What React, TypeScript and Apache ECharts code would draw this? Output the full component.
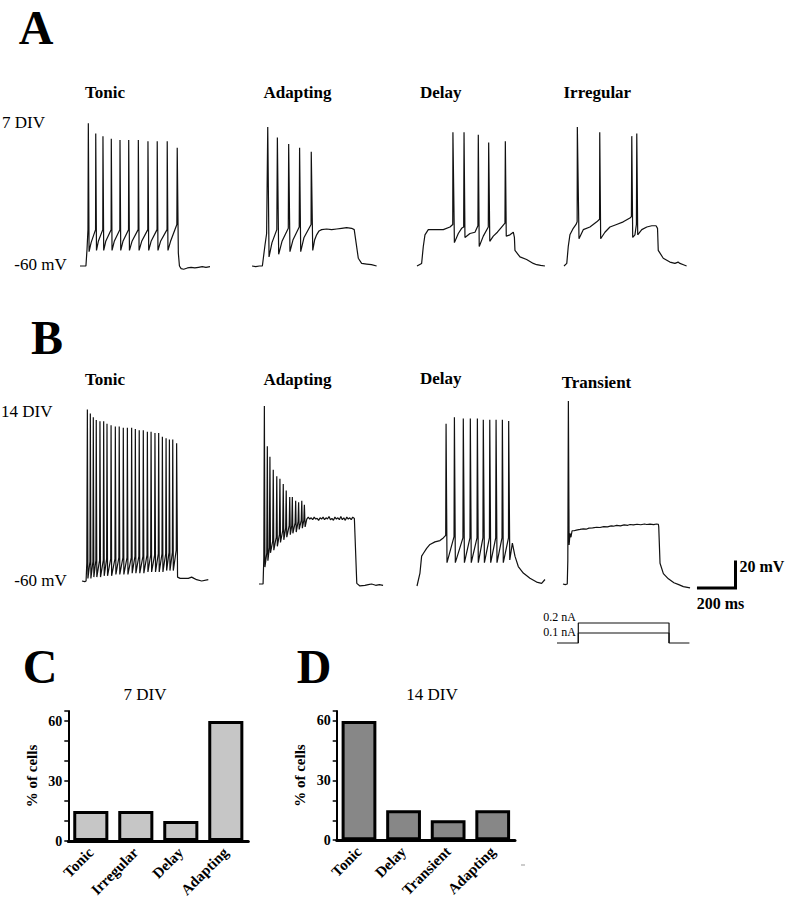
import React, { useEffect, useRef } from "react";
import * as echarts from "echarts";

const FONT = '"Liberation Serif", "Times New Roman", serif';

// ---------- Data: membrane potential traces, [time (ms), potential (mV)] ----------
// Row A (7 DIV)
const typesA = ["Tonic", "Adapting", "Delay", "Irregular"];
const tonic7: number[][] = [
  [0, -60], [32, -60], [38, -47], [43, -32], [45, 50], [49, -49], [60, -42], [84, -32],
  [85, 42], [89, -48], [99, -41], [123, -32],
  [124, 40], [128, -48], [139, -41], [168, -32],
  [169, 38], [173, -48], [185, -41], [215, -32],
  [216, 37], [220, -48], [232, -41], [262, -32],
  [263, 37], [267, -48], [281, -41], [314, -32],
  [315, 37], [319, -48], [333, -41], [366, -32],
  [367, 36], [371, -48], [384, -41], [416, -32],
  [417, 36], [421, -48], [435, -41], [470, -32],
  [471, 36], [475, -48], [489, -41], [523, -28],
  [525, 31], [531, -50], [537, -60], [546, -62], [560, -62.5], [580, -61.5], [600, -61],
  [620, -61.5], [640, -61], [660, -60.5], [680, -61], [702, -60.5],
];
const adapting7: number[][] = [
  [0, -60], [20, -60.5], [40, -60], [56, -60], [70, -44], [79, -35], [85, 47], [92, -53], [108, -42], [134, -32],
  [137, 39], [144, -51], [162, -41], [196, -31],
  [198, 34], [205, -49], [221, -40], [255, -30],
  [257, 31], [263, -49], [281, -38], [319, -28],
  [320, 28], [328, -48], [338, -40], [349, -36], [362, -33], [376, -32], [403, -31.5], [430, -32],
  [457, -31.5], [484, -31], [511, -30.5], [538, -31], [552, -32], [574, -54], [592, -58], [619, -58.5],
  [645, -59], [673, -60],
];
const delay7: number[][] = [
  [0, -60], [25, -58], [34, -45], [43, -36], [61, -32], [79, -32], [106, -32], [142, -32], [178, -30], [193, -28],
  [194, 43], [202, -42], [223, -35], [241, -31], [252, -30],
  [254, 43], [259, -38], [286, -35], [313, -34], [329, -29],
  [331, 41], [336, -45], [358, -37], [385, -30],
  [387, 35], [393, -41], [412, -37], [434, -34], [457, -30], [475, -27],
  [477, 36], [482, -37], [502, -36], [520, -34], [526, -38], [529, -48], [556, -53], [592, -55],
  [628, -58], [646, -59], [668, -59.5], [691, -60],
];
const irregular7: number[][] = [
  [0, -60], [15, -58], [23, -45], [32, -36], [50, -31], [65, -28], [71, -26],
  [72, 47], [81, -39], [104, -32], [140, -30], [177, -26], [192, -24],
  [193, 43], [198, -39], [221, -34], [248, -30], [284, -28], [320, -26], [356, -23], [364, -22],
  [366, 40], [371, -38], [383, -36], [391, -28],
  [393, 42], [398, -36], [420, -32], [447, -30], [474, -29], [497, -29], [505, -31], [509, -48],
  [536, -54], [572, -57], [599, -58], [616, -57], [626, -58], [645, -59], [662, -60],
];

// Row B (14 DIV)
const typesB = ["Tonic", "Adapting", "Delay", "Transient"];
const tonic14: number[][] = [
  [0, -60], [15, -60.5], [22, -60], [26, -46],
  [29, 72], [32, -58], [43, -45],
  [45, 69], [48, -58], [59, -45],
  [61, 66], [64, -57], [75, -44],
  [77, 64], [80, -57], [95, -44],
  [97, 63], [100, -57], [115, -44],
  [117, 63], [120, -56], [133, -43],
  [135, 61], [138, -56], [155, -43],
  [157, 60], [160, -56], [178, -43],
  [180, 59], [183, -55], [199, -42],
  [201, 59], [204, -55], [221, -42],
  [223, 58], [226, -55], [243, -42],
  [245, 58], [248, -55], [266, -42],
  [268, 58], [271, -54], [286, -41],
  [288, 57], [291, -54], [307, -41],
  [309, 56], [312, -54], [329, -41],
  [331, 56], [334, -54], [351, -40],
  [353, 55], [356, -53], [371, -40],
  [373, 55], [376, -53], [392, -40],
  [394, 54], [397, -53], [412, -39],
  [414, 54], [417, -53], [432, -39],
  [434, 51], [437, -53], [452, -39],
  [454, 50], [457, -52], [470, -38],
  [472, 49], [475, -52], [488, -38],
  [490, 49], [493, -52], [509, -36],
  [511, 46], [516, -57], [530, -58], [550, -58], [574, -58], [592, -57], [605, -58], [619, -59],
  [646, -60], [682, -59],
];
const adapting14: number[][] = [
  [0, -60], [12, -60], [22, -60], [26, -40], [29, 77], [32, -47], [42, -36],
  [45, 46], [48, -42], [56, -32],
  [59, 38], [62, -36], [74, -27],
  [77, 28], [80, -34], [93, -24],
  [96, 23], [99, -31], [110, -22],
  [113, 21], [116, -28], [128, -19],
  [131, 17], [134, -26], [144, -17],
  [147, 12], [150, -24], [163, -15],
  [166, 7], [169, -22], [177, -15],
  [180, 7], [183, -21], [195, -13],
  [198, 4], [201, -20], [211, -12],
  [214, 3], [217, -18], [228, -11],
  [231, 4], [234, -17], [242, -11],
  [245, 1], [249, -16], [258, -10],
  [266, -8.5], [274, -10], [282, -9], [290, -10.5], [298, -8.5], [306, -10], [314, -9.5], [322, -11],
  [330, -9], [338, -10], [346, -8.5], [354, -10.5], [362, -9], [370, -10], [378, -8], [386, -10.5],
  [394, -9.5], [402, -11], [410, -8.5], [418, -10], [426, -9], [434, -10.5], [442, -8], [450, -10.5],
  [458, -9], [466, -11], [474, -8.5], [482, -10], [490, -9], [498, -10.5], [506, -8.5], [515, -9.5],
  [528, -59.5], [545, -61.5], [572, -61], [590, -60.5], [608, -60], [630, -61], [650, -60.5], [670, -61],
];
const delay14: number[][] = [
  [0, -60], [16, -50], [25, -37], [34, -35], [52, -31], [70, -28], [97, -26], [124, -25], [142, -23], [155, -21],
  [157, 65], [162, -42], [200, -22],
  [202, 70], [207, -42], [248, -23],
  [250, 69], [256, -42], [286, -23],
  [288, 69], [293, -42], [324, -23],
  [326, 69], [331, -42], [356, -23],
  [358, 68], [364, -42], [391, -23],
  [393, 68], [398, -42], [425, -23],
  [427, 68], [432, -42], [459, -23],
  [461, 68], [466, -42], [494, -23],
  [495, 67], [501, -40], [515, -27], [529, -37], [547, -45], [574, -50], [610, -54], [646, -57],
  [673, -58], [691, -55],
];
const transient14: number[][] = [
  [0, -60], [12, -60.5], [23, -60], [26, -42], [29, 81], [33, -30], [38, -21], [43, -24], [49, -19],
  [60, -19], [72, -18.5], [92, -18], [110, -17.5], [125, -17.8], [140, -17], [160, -16.8], [182, -16.3],
  [200, -16.5], [220, -15.8], [240, -16], [260, -15.3], [272, -15.5], [290, -14.8], [310, -15.2],
  [330, -14.5], [350, -14.8], [362, -14.2], [380, -14.5], [400, -14], [420, -14.4], [440, -13.8],
  [452, -14.2], [470, -13.9], [490, -14.3], [505, -13.8], [515, -14], [517, -16], [524, -44],
  [542, -52], [569, -56], [599, -59], [625, -60.5], [650, -62], [686, -63],
];

// Scale bar (ms, mV) and current step protocol (ms, nA)
const scaleBar: number[][] = [[-200, 0], [0, 0], [0, 20]];
const stepHigh: number[][] = [[-115, 0], [0, 0], [0, 0.2], [490, 0.2], [490, 0], [600, 0]];
const stepLow: number[][] = [[0, 0], [0, 0.1], [490, 0.1], [490, 0]];

// Bar charts: % of cells
const catsC = ["Tonic", "Irregular", "Delay", "Adapting"];
const valsC = [15, 15, 10, 60];
const catsD = ["Tonic", "Delay", "Transient", "Adapting"];
const valsD = [60, 15, 10, 15];

// ---------- Layout ----------
const PXMS = 1 / 5.4; // px per ms
const PXMV = 1 / 0.77; // px per mV

const traceLayout = [
  { data: tonic7, left: 80, base: 266, tmax: 702, ymax: 60 },
  { data: adapting7, left: 252, base: 266, tmax: 673, ymax: 60 },
  { data: delay7, left: 417, base: 266, tmax: 691, ymax: 60 },
  { data: irregular7, left: 564, base: 266, tmax: 662, ymax: 60 },
  { data: tonic14, left: 82, base: 581, tmax: 682, ymax: 90 },
  { data: adapting14, left: 259, base: 584, tmax: 670, ymax: 90 },
  { data: delay14, left: 417, base: 586, tmax: 691, ymax: 90 },
  { data: transient14, left: 563, base: 584, tmax: 686, ymax: 90 },
];
const YMIN = -70;

function txt(text: string, x: number, y: number, size: number, bold: boolean, align = "left", extra: any = {}) {
  const font = `${bold ? "bold " : ""}${size}px ${FONT}`;
  return {
    type: "text",
    x,
    y,
    silent: true,
    style: {
      text,
      font,
      fill: "#000",
      textAlign: align,
      align,
      textVerticalAlign: "middle",
      verticalAlign: "middle",
      ...extra,
    },
  };
}

function buildOption() {
  const grid: any[] = [];
  const xAxis: any[] = [];
  const yAxis: any[] = [];
  const series: any[] = [];

  traceLayout.forEach((t, i) => {
    grid.push({
      left: t.left,
      top: t.base - (t.ymax + 60) * PXMV,
      width: t.tmax * PXMS,
      height: (t.ymax - YMIN) * PXMV,
    });
    xAxis.push({ gridIndex: i, type: "value", min: 0, max: t.tmax, show: false });
    yAxis.push({ gridIndex: i, type: "value", min: YMIN, max: t.ymax, show: false });
    series.push({
      type: "line",
      xAxisIndex: i,
      yAxisIndex: i,
      data: t.data,
      symbol: "none",
      clip: false,
      silent: true,
      lineStyle: { color: "#111", width: 1.2 },
    });
  });

  // scale bar grid (index 8)
  const sbCornerX = 735.5;
  const sbCornerY = 588;
  grid.push({ left: sbCornerX - 200 * PXMS, top: sbCornerY - 20 * PXMV, width: 200 * PXMS, height: 20 * PXMV });
  xAxis.push({ gridIndex: 8, type: "value", min: -200, max: 0, show: false });
  yAxis.push({ gridIndex: 8, type: "value", min: 0, max: 20, show: false });
  series.push({
    type: "line", xAxisIndex: 8, yAxisIndex: 8, data: scaleBar, symbol: "none", clip: false, silent: true,
    lineStyle: { color: "#000", width: 3, cap: "square", join: "miter" },
  });

  // current step grid (index 9)
  const stepT0 = 578.3;
  const stepBase = 643;
  const PXNA = 100;
  grid.push({ left: stepT0 - 115 * PXMS, top: stepBase - 0.2 * PXNA, width: 715 * PXMS, height: 0.2 * PXNA });
  xAxis.push({ gridIndex: 9, type: "value", min: -115, max: 600, show: false });
  yAxis.push({ gridIndex: 9, type: "value", min: 0, max: 0.2, show: false });
  series.push({
    type: "line", xAxisIndex: 9, yAxisIndex: 9, data: stepHigh, symbol: "none", clip: false, silent: true,
    lineStyle: { color: "#111", width: 1.2 },
  });
  series.push({
    type: "line", xAxisIndex: 9, yAxisIndex: 9, data: stepLow, symbol: "none", clip: false, silent: true,
    lineStyle: { color: "#111", width: 1.2 },
  });

  // bar charts (10: C, 11: D)
  const barGrids = [
    { left: 68.3, width: 180, cats: catsC, vals: valsC, color: "#c6c6c6" },
    { left: 336.7, width: 178.3, cats: catsD, vals: valsD, color: "#878787" },
  ];
  barGrids.forEach((b, k) => {
    const gi = 10 + k;
    grid.push({ left: b.left, top: 841 - 65 * 2, width: b.width, height: 130 });
    xAxis.push({
      gridIndex: gi,
      type: "category",
      data: b.cats,
      axisLine: { show: true, lineStyle: { color: "#000", width: 3 } },
      axisTick: { show: false },
      axisLabel: {
        interval: 0,
        rotate: 45,
        color: "#000",
        fontFamily: FONT,
        fontWeight: "bold",
        fontSize: 15,
        margin: 9,
      },
    });
    yAxis.push({
      gridIndex: gi,
      type: "value",
      min: 0,
      max: 65,
      interval: 10,
      axisLine: { show: true, lineStyle: { color: "#000", width: 2 } },
      axisTick: { show: true, length: 4, lineStyle: { color: "#000", width: 1.5 } },
      splitLine: { show: false },
      axisLabel: {
        formatter: (v: number) => (v % 30 === 0 ? String(v) : ""),
        color: "#000",
        fontFamily: FONT,
        fontWeight: "bold",
        fontSize: 14,
        margin: 6,
      },
      name: "% of cells",
      nameLocation: "middle",
      nameGap: 29,
      nameTextStyle: { color: "#000", fontFamily: FONT, fontWeight: "bold", fontSize: 15 },
    });
    series.push({
      type: "bar",
      xAxisIndex: gi,
      yAxisIndex: gi,
      data: b.vals,
      barCategoryGap: "22%",
      silent: true,
      itemStyle: { color: b.color, borderColor: "#000", borderWidth: 3 },
    });
  });

  const big = { lineHeight: 34 };
  const graphic: any[] = [
    txt("A", 36, 27, 48, true, "center", big),
    txt("B", 47, 337, 48, true, "center", big),
    txt("C", 40, 666, 48, true, "center", big),
    txt("D", 314, 666, 48, true, "center", big),
    txt("7 DIV", 2, 122, 17, false),
    txt("-60 mV", 66.7, 264, 17, false, "right"),
    txt("14 DIV", 1, 411, 17, false),
    txt("-60 mV", 66.7, 580, 17, false, "right"),
    txt(typesA[0], 85, 92, 17, true),
    txt(typesA[1], 263.5, 92, 17, true),
    txt(typesA[2], 420, 92, 17, true),
    txt(typesA[3], 563.5, 92, 17, true),
    txt(typesB[0], 85, 379, 17, true),
    txt(typesB[1], 263.5, 379, 17, true),
    txt(typesB[2], 420, 378, 17, true),
    txt(typesB[3], 561.7, 382, 17, true),
    txt("20 mV", 739.5, 566.5, 16, true),
    txt("200 ms", 696.7, 603.3, 16, true),
    txt("0.2 nA", 576, 617, 12, false, "right"),
    txt("0.1 nA", 576, 631.5, 12, false, "right"),
    txt("7 DIV", 145, 694.5, 17, false, "center"),
    txt("14 DIV", 432, 694.5, 17, false, "center"),
    {
      type: "line",
      silent: true,
      shape: { x1: 521, y1: 865, x2: 525, y2: 865 },
      style: { stroke: "#999", lineWidth: 1 },
    },
  ];

  return {
    animation: false,
    backgroundColor: "#fff",
    grid,
    xAxis,
    yAxis,
    series,
    graphic,
  };
}

export default function App() {
  const ref = useRef<HTMLDivElement>(null);
  useEffect(() => {
    document.body.style.margin = "0";
    const chart = echarts.init(ref.current as HTMLDivElement, null, { renderer: "svg" });
    chart.setOption(buildOption() as any);
    return () => chart.dispose();
  }, []);
  return (
    <div
      ref={ref}
      style={{ position: "absolute", left: 0, top: 0, width: 785, height: 900, background: "#fff" }}
    />
  );
}
